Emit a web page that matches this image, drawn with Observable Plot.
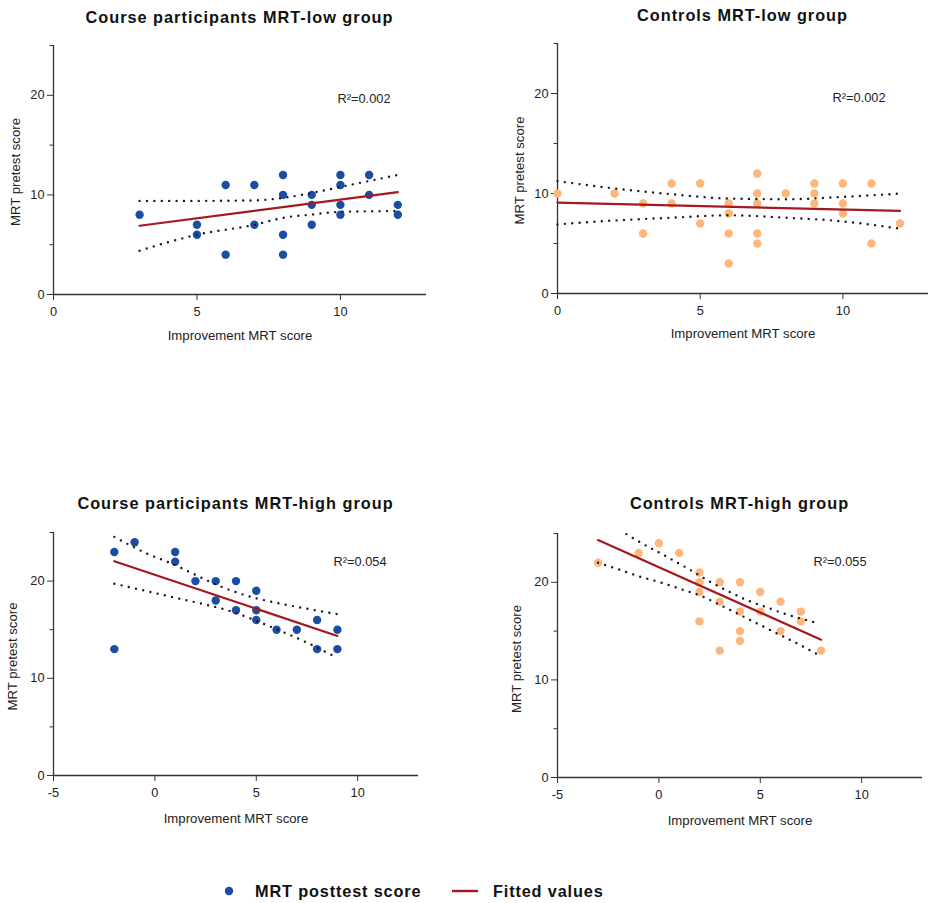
<!DOCTYPE html>
<html><head><meta charset="utf-8">
<script src="https://cdn.jsdelivr.net/npm/d3@7"></script>
<script src="https://cdn.jsdelivr.net/npm/@observablehq/plot@0.6"></script>
<style>
body{margin:0;background:#fff;font-family:"Liberation Sans",Arial,sans-serif;}
#wrap{position:relative;width:929px;height:903px;overflow:hidden;}
.panel{position:absolute;}
.title{position:absolute;font-weight:bold;font-size:16.3px;letter-spacing:1px;text-align:center;color:#111;line-height:18px;white-space:nowrap;}
#legend{position:absolute;left:0;top:881px;width:929px;height:20px;}
.lg{position:absolute;font-weight:bold;font-size:16.3px;letter-spacing:0.85px;color:#111;line-height:20px;white-space:nowrap;}
</style></head>
<body><div id="wrap"></div>
<script>
// ---- data ----
const titles = ["Course participants MRT-low group","Controls MRT-low group","Course participants MRT-high group","Controls MRT-high group"];
const r2Labels = ["R²=0.002","R²=0.002","R²=0.054","R²=0.055"];
const xLabel = "Improvement MRT score";
const yLabel = "MRT pretest score";
const legendLabels = ["MRT posttest score","Fitted values"];
const xTicksLow = [0,5,10];
const xTicksHigh = [-5,0,5,10];
const yTicksMajor = [0,10,20];
const yTicksMinor = [5,15,25];

// Course participants MRT-low
const courseLowX = [3,5,5,6,6,7,7,8,8,8,8,9,9,9,10,10,10,10,11,11,12,12];
const courseLowY = [8,7,6,11,4,11,7,12,10,6,4,10,9,7,12,11,9,8,12,10,9,8];
const courseLowFitX = [3,12];
const courseLowFitY = [6.9,10.27];
const courseLowUpX = [3,5,7,8,9,10,11,12];
const courseLowUpY = [9.4,9.4,9.45,9.7,10.2,10.8,11.4,12.0];
const courseLowLoX = [3,4,5,7,8,9,10,12];
const courseLowLoY = [4.4,5.25,6.0,7.0,7.7,8.03,8.3,8.38];

// Controls MRT-low
const ctrlLowX = [0,2,3,3,4,4,5,5,6,6,6,6,7,7,7,7,7,8,9,9,9,10,10,10,11,11,12];
const ctrlLowY = [10,10,9,6,11,9,11,7,9,8,6,3,12,10,9,6,5,10,11,10,9,11,9,8,11,5,7];
const ctrlLowFitX = [0,12];
const ctrlLowFitY = [9.09,8.26];
const ctrlLowUpX = [0,2,4,6,8,10,12];
const ctrlLowUpY = [11.24,10.5,9.93,9.5,9.43,9.66,10.0];
const ctrlLowLoX = [0,2,4,6,8,10,11,12];
const ctrlLowLoY = [6.91,7.3,7.58,7.82,7.58,7.21,6.88,6.48];

// Course participants MRT-high
const courseHighX = [-2,-2,-1,1,1,2,3,3,4,4,5,5,5,6,7,8,8,9,9];
const courseHighY = [23,13,24,23,22,20,20,18,20,17,19,17,16,15,15,16,13,15,13];
const courseHighFitX = [-2,9];
const courseHighFitY = [22.05,14.36];
const courseHighUpX = [-2,-0.4,1,2.3,3.6,4.9,6.2,7.5,9];
const courseHighUpY = [24.55,22.84,21.65,20.34,19.15,18.29,17.68,17.16,16.6];
const courseHighLoX = [-2,-0.4,1,2.3,3.6,4.9,6.2,7.5,8.9];
const courseHighLoY = [19.73,18.97,18.29,17.68,16.99,16.0,14.87,13.67,12.2];

// Controls MRT-high
const ctrlHighX = [-3,-1,0,1,2,2,2,2,3,3,3,4,4,4,4,5,5,6,6,7,7,8];
const ctrlHighY = [22,23,24,23,21,20,19,16,20,18,13,20,17,15,14,19,17,18,15,17,16,13];
const ctrlHighFitX = [-3,8];
const ctrlHighFitY = [24.33,14.12];
const ctrlHighUpX = [-1.6,-1.06,0.25,1.57,2.39,3.38,4.36,5.35,6.33,7.32,7.9];
const ctrlHighUpY = [24.94,24.26,22.78,21.24,20.22,19.12,18.16,17.41,16.69,16.11,15.77];
const ctrlHighLoX = [-3,-2,-0.9,0.1,1.1,2.1,3.05,4.03,5.02,6,7,7.9];
const ctrlHighLoY = [22.0,21.34,20.56,19.98,19.3,18.58,17.65,16.63,15.6,14.57,13.54,12.52];

const blue = "#1b4ea2";
const peach = "#fdb67c";
const red = "#a3191d";
const axisColor = "#333";

const zip = (xs, ys) => xs.map((x, i) => ({x, y: ys[i]}));

const panels = [
  {left:0, top:0, width:464, height:360, ml:53, mr:38, mt:45, mb:66, xd:[0,13], xt:xTicksLow,
   pts:zip(courseLowX,courseLowY), fit:zip(courseLowFitX,courseLowFitY), up:zip(courseLowUpX,courseLowUpY), lo:zip(courseLowLoX,courseLowLoY),
   color:blue, r2dx:-36, r2dy:53, xlabDy:41, ylabDx:-38, ylabDy:2},
  {left:464, top:0, width:465, height:360, ml:93, mr:1, mt:43, mb:67, xd:[0,13], xt:xTicksLow,
   pts:zip(ctrlLowX,ctrlLowY), fit:zip(ctrlLowFitX,ctrlLowFitY), up:zip(ctrlLowUpX,ctrlLowUpY), lo:zip(ctrlLowLoX,ctrlLowLoY),
   color:peach, r2dx:-43, r2dy:54, xlabDy:40, ylabDx:-37.5, ylabDy:2},
  {left:0, top:480, width:464, height:360, ml:53, mr:46, mt:52, mb:65, xd:[-5,13], xt:xTicksHigh,
   pts:zip(courseHighX,courseHighY), fit:zip(courseHighFitX,courseHighFitY), up:zip(courseHighUpX,courseHighUpY), lo:zip(courseHighLoX,courseHighLoY),
   color:blue, r2dx:-32, r2dy:29, xlabDy:43, ylabDx:-40.5, ylabDy:2.5},
  {left:464, top:480, width:465, height:360, ml:93, mr:7, mt:53, mb:63, xd:[-5,13], xt:xTicksHigh,
   pts:zip(ctrlHighX,ctrlHighY), fit:zip(ctrlHighFitX,ctrlHighFitY), up:zip(ctrlHighUpX,ctrlHighUpY), lo:zip(ctrlHighLoX,ctrlHighLoY),
   color:peach, r2dx:-56, r2dy:28.5, xlabDy:43.3, ylabDx:-40.7, ylabDy:3.5}
];

const wrap = document.getElementById("wrap");

panels.forEach((p, i) => {
  const dotted = {x:"x", y:"y", stroke:"#1a1a1a", strokeWidth:2.4, strokeDasharray:"0,7.4", strokeLinecap:"round", curve:"monotone-x"};
  const chart = Plot.plot({
    width: p.width, height: p.height,
    marginLeft: p.ml, marginRight: p.mr, marginTop: p.mt, marginBottom: p.mb,
    x: {domain: p.xd},
    y: {domain: [0,25]},
    style: {fontFamily: '"Liberation Sans", Arial, sans-serif', fontSize: "12px", color: "#222", background: "transparent", overflow: "visible"},
    marks: [
      Plot.axisX(p.xt, {tickSize:6, tickPadding:6.5, tickFormat: d => String(d), label:null, stroke:axisColor, fill:"#222", fontSize:12.8}),
      Plot.axisY(yTicksMajor, {tickSize:6, tickPadding:3, tickFormat: d => String(d), label:null, stroke:axisColor, fill:"#222", fontSize:12.8}),
      Plot.axisY(yTicksMinor, {tickSize:3.5, tickFormat: () => "", label:null, stroke:axisColor}),
      Plot.ruleY([0], {stroke:axisColor, strokeWidth:1.3}),
      Plot.ruleX([p.xd[0]], {stroke:axisColor, strokeWidth:1.3}),
      Plot.dot(p.pts, {x:"x", y:"y", r:4.2, fill:p.color, stroke:"none"}),
      Plot.line(p.fit, {x:"x", y:"y", stroke:red, strokeWidth:2.2}),
      Plot.line(p.up, dotted),
      Plot.line(p.lo, dotted),
      Plot.text([r2Labels[i]], {text: d => d, frameAnchor:"top-right", textAnchor:"end", lineAnchor:"middle", dx:p.r2dx, dy:p.r2dy, fontSize:12.8, fill:"#222"}),
      Plot.text([xLabel], {text: d => d, frameAnchor:"bottom", lineAnchor:"middle", dy:p.xlabDy, fontSize:13.2, fill:"#222"}),
      Plot.text([yLabel], {text: d => d, frameAnchor:"left", rotate:-90, textAnchor:"middle", lineAnchor:"middle", dx:p.ylabDx, dy:p.ylabDy, fontSize:13.2, fill:"#222"})
    ]
  });
  const holder = document.createElement("div");
  holder.className = "panel";
  holder.style.left = p.left + "px";
  holder.style.top = p.top + "px";
  holder.appendChild(chart);
  wrap.appendChild(holder);

  const t = document.createElement("div");
  t.className = "title";
  t.textContent = titles[i];
  const frameLeft = p.left + p.ml;
  const frameRight = p.left + p.width - p.mr;
  t.style.left = frameLeft + "px";
  t.style.width = (frameRight - frameLeft) + "px";
  const titleCenters = [17, 15, 503, 503];
  t.style.top = (titleCenters[i] - 9) + "px";
  wrap.appendChild(t);
});

// legend
const legend = document.createElement("div");
legend.id = "legend";
legend.innerHTML = `
<svg style="position:absolute;left:0;top:0" width="929" height="20">
  <circle cx="229" cy="10" r="4.2" fill="${blue}"></circle>
  <line x1="452" x2="478" y1="10" y2="10" stroke="${red}" stroke-width="2.4"></line>
</svg>
<div class="lg" style="left:255px;top:0">${legendLabels[0]}</div>
<div class="lg" style="left:493px;top:0">${legendLabels[1]}</div>`;
wrap.appendChild(legend);
</script>
</body></html>
